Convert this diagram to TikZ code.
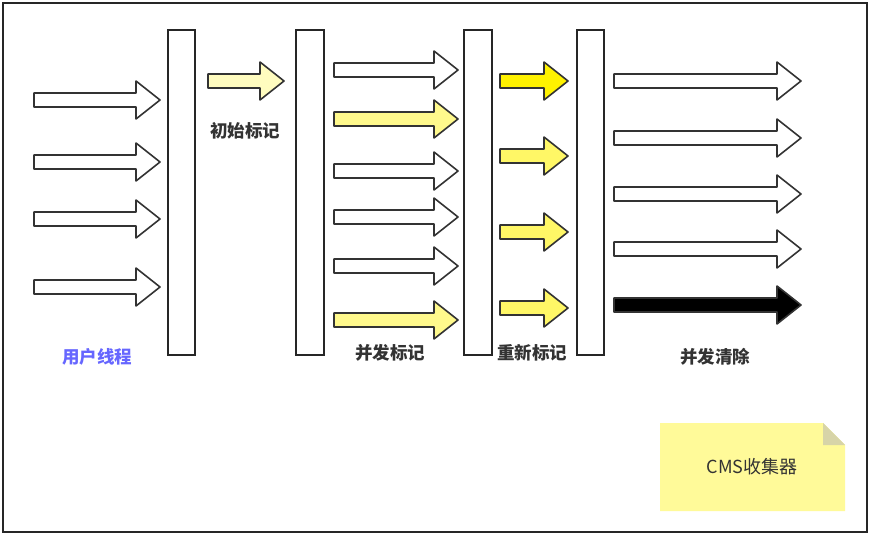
\documentclass[tikz,border=0pt]{standalone}
\usepackage{fontspec}
\newfontfamily\cjk{Noto Sans CJK SC}
\begin{document}
\begin{tikzpicture}[x=1pt,y=-1pt,
  bar/.style={draw=black!85,line width=1.6pt,fill=white},
  arr/.style={draw=black!80,line width=1.6pt,line join=round},
  lbl/.style={font=\cjk\bfseries\fontsize{17.5}{19}\selectfont,text=black!80}]
\newcommand\fatarr[4]{% x1,x2,y,fill
  \draw[arr,fill=#4] (#1,#3-7) -- (#2-24,#3-7) -- (#2-24,#3-19) -- (#2,#3) -- (#2-24,#3+19) -- (#2-24,#3+7) -- (#1,#3+7) -- cycle;}
\useasboundingbox (0,0) rectangle (870,535);
\draw[line width=1.8pt,draw=black!85] (3,3) rectangle (867,532);
\foreach \y in {100,162,219,287} {\fatarr{34}{160}{\y}{white}}
\fatarr{208}{284}{81}{yellow!25}
\foreach \y/\c in {70/white,119/yellow!45,171/white,217/white,266/white,320/yellow!45} {\fatarr{334}{458}{\y}{\c}}
\foreach \y/\c in {81/yellow,156/yellow!60,232/yellow!60,308/yellow!60} {\fatarr{500}{568}{\y}{\c}}
\foreach \y in {81,138,194,249} {\fatarr{614}{801}{\y}{white}}
\fatarr{614}{801}{305}{black}
\draw[bar] (168,30) rectangle (195,355);
\draw[bar] (296,30) rectangle (324,355);
\draw[bar] (464,30) rectangle (492,355);
\draw[bar] (577,30) rectangle (604,355);
\node[lbl,text=blue!60] (l1) at (97,357) {用户线程};
\node[lbl] (l2) at (245,131) {初始标记};
\node[lbl] (l3) at (390,353) {并发标记};
\node[lbl] (l4) at (532,353) {重新标记};
\node[lbl] (l5) at (715,357) {并发清除};
\fill[yellow!40] (660,423) -- (823,423) -- (845,445) -- (845,511) -- (660,511) -- cycle;
\fill[yellow!55!black!40] (823,423) -- (845,445) -- (823,445) -- cycle;
\node[font=\cjk\fontsize{18}{20}\selectfont,text=black!80] (n) at (752,467) {CMS收集器};
\end{tikzpicture}
\end{document}
